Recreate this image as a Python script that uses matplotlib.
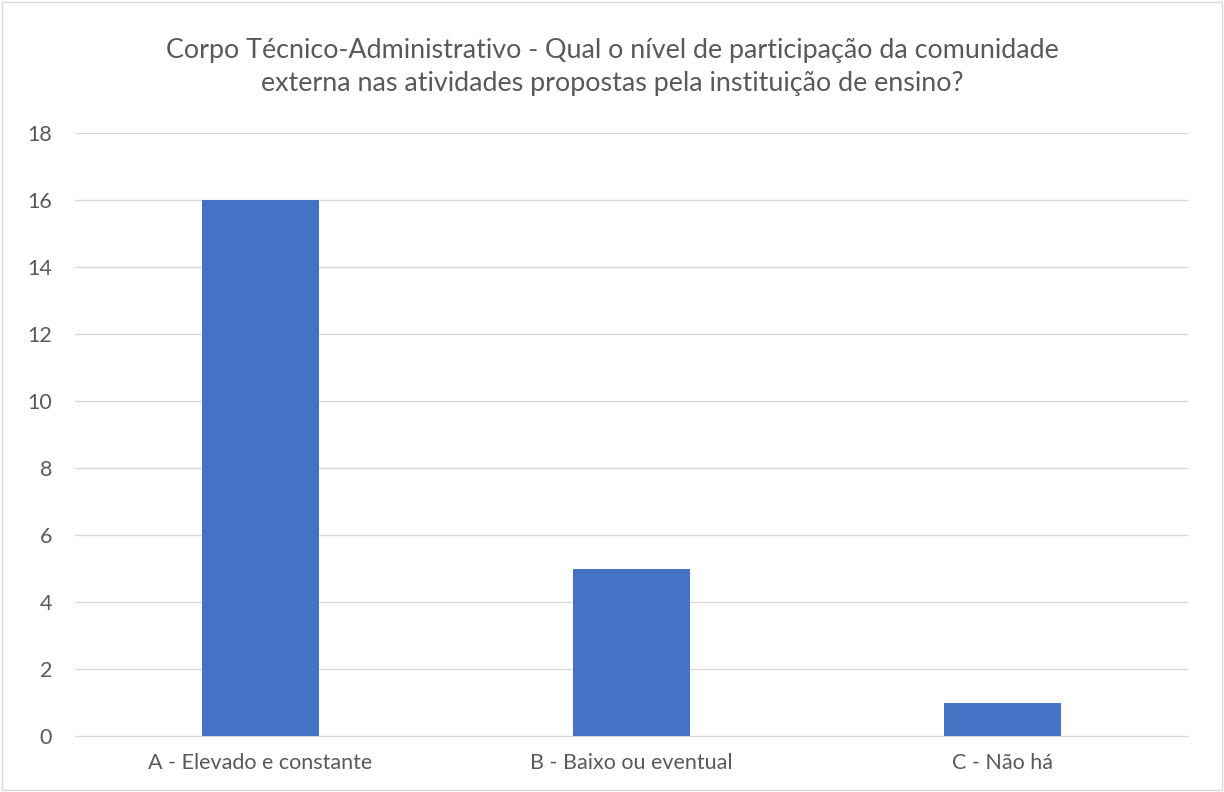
import matplotlib
matplotlib.use("Agg")
import matplotlib.pyplot as plt
from matplotlib.patches import Rectangle

categories = ["A - Elevado e constante", "B - Baixo ou eventual", "C - Não há"]
values = [16, 5, 1]
yticks = [0, 2, 4, 6, 8, 10, 12, 14, 16, 18]
title = ("Corpo Técnico-Administrativo - Qual o nível de participação da comunidade\n"
         "externa nas atividades propostas pela instituição de ensino?")

plt.rcParams['font.family'] = ['Lato', 'DejaVu Sans']

fig = plt.figure(figsize=(12.24, 7.92), dpi=100)
ax = fig.add_axes([75/1224, 1-736/792, 1113/1224, 603/792])

x = list(range(len(categories)))
ax.bar(x, values, width=0.313, color="#4472C4", zorder=3)
ax.set_xlim(-0.5, 2.5)
ax.set_ylim(0, 18)
ax.set_yticks(yticks)
ax.set_xticks(x)
ax.set_xticklabels(categories)
ax.tick_params(axis='both', length=0, labelsize=15.5, colors="#595959")
ax.tick_params(axis='y', pad=16.5)
ax.tick_params(axis='x', pad=12)
ax.grid(axis='y', color="#D9D9D9", linewidth=1, zorder=0)
for s in ["top", "right", "left"]:
    ax.spines[s].set_visible(False)
ax.spines["bottom"].set_color("#D9D9D9")

fig.text(0.5, 1-67/792, title, ha='center', va='center', fontsize=19.4,
         color="#595959", linespacing=1.4)

fig.patches.append(Rectangle((0.002, 0.002), 0.996, 0.996, transform=fig.transFigure,
                             fill=False, edgecolor="#D9D9D9", linewidth=1))

fig.savefig("out.png", dpi=100)
